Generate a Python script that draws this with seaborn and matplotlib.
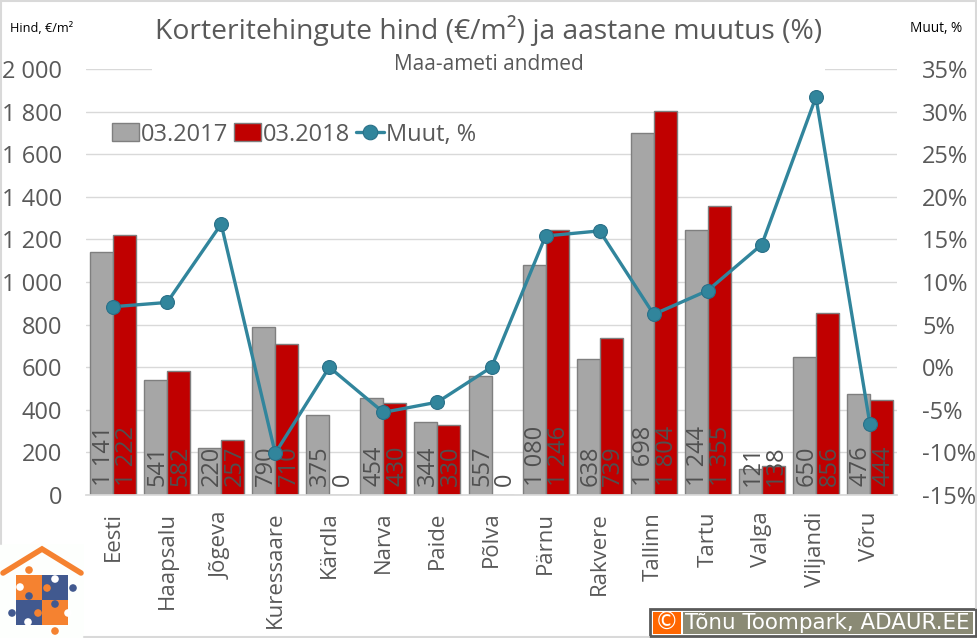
import numpy as np
import pandas as pd
import matplotlib
matplotlib.use('Agg')
import matplotlib.pyplot as plt
from matplotlib.lines import Line2D
from matplotlib.patches import Rectangle, Circle
from matplotlib.ticker import FuncFormatter
import seaborn as sns

# andmed
linnad = ['Eesti', 'Haapsalu', 'Jõgeva', 'Kuressaare', 'Kärdla', 'Narva', 'Paide', 'Põlva',
          'Pärnu', 'Rakvere', 'Tallinn', 'Tartu', 'Valga', 'Viljandi', 'Võru']
hind_2017 = [1141, 541, 220, 790, 375, 454, 344, 557, 1080, 638, 1698, 1244, 121, 650, 476]
hind_2018 = [1222, 582, 257, 710, 0, 430, 330, 0, 1246, 739, 1804, 1355, 138, 856, 444]
muut = [7.1, 7.6, 16.8, -10.1, 0, -5.3, -4.1, 0, 15.4, 16.0, 6.2, 9.0, 14.4, 31.7, -6.7]

HALL = '#a6a6a6'
PUNANE = '#c00000'
SININE = '#31859c'
TEKST = '#595959'
W, H = 977, 638

sns.set_theme(style='white')
plt.rcParams['font.family'] = ['Open Sans', 'DejaVu Sans']

df = pd.DataFrame({'linn': linnad * 2,
                   'hind': hind_2017 + hind_2018,
                   'aeg': ['03.2017'] * 15 + ['03.2018'] * 15})

fig = plt.figure(figsize=(W / 100, H / 100), dpi=100)
ax = fig.add_axes([86 / W, 1 - 495 / H, 811 / W, 426 / H])

sns.barplot(data=df, x='linn', y='hind', hue='aeg', palette=[HALL, PUNANE], width=0.85,
            edgecolor='#7f7f7f', linewidth=1, saturation=1, legend=False, ax=ax)
ax.set_ylim(0, 2000)
ax.set_xlim(-0.5, 14.5)
ax.set_yticks(range(0, 2001, 200))
ax.yaxis.set_major_formatter(FuncFormatter(lambda v, p: f'{int(v):,}'.replace(',', ' ')))
ax.set_xlabel('')
ax.set_ylabel('')
ax.grid(axis='y', color='#d9d9d9', linewidth=1)
ax.set_axisbelow(True)
sns.despine(ax=ax, left=True, right=True, top=True)
ax.spines['bottom'].set_color('#d9d9d9')
ax.tick_params(axis='y', length=0, pad=17, labelsize=17, labelcolor=TEKST)
ax.tick_params(axis='x', length=0, pad=12, labelsize=16, labelcolor=TEKST, labelrotation=90)

# väärtused tulpade sees, tulba alusel
for cont in ax.containers[:2]:
    for p, v in zip(cont.patches, cont.datavalues):
        ax.annotate(f'{int(v):,}'.replace(',', ' '), (p.get_x() + p.get_width() / 2, 0),
                    xytext=(1.6, 6.5), textcoords='offset points', rotation=90,
                    ha='center', va='bottom', fontsize=17, color='#505050')

# muutuse joon teisel teljel
ax2 = ax.twinx()
ax2.patch.set_visible(False)
sns.pointplot(x=linnad, y=muut, color=SININE, markersize=10, linewidth=2.4,
              markeredgecolor='#2a7088', markeredgewidth=0.8, errorbar=None, ax=ax2)
ax2.set_xlim(-0.5, 14.5)
ax2.set_ylim(-15, 35)
ax2.set_yticks(range(-15, 36, 5))
ax2.yaxis.set_major_formatter(FuncFormatter(lambda v, p: f'{int(v)}%'))
ax2.grid(False)
sns.despine(ax=ax2, left=True, right=True, top=True, bottom=True)
ax2.tick_params(axis='y', length=0, pad=18, labelsize=17, labelcolor=TEKST)

# legend
kasitsejad = [Rectangle((0, 0), 1, 1, fc=HALL, ec='#7f7f7f'),
              Rectangle((0, 0), 1, 1, fc=PUNANE, ec='#7f7f7f'),
              Line2D([], [], color=SININE, lw=2.4, marker='o', ms=10.5, mec='#2a7088', mew=0.8)]
ax2.legend(kasitsejad, ['03.2017', '03.2018', 'Muut, %'], frameon=False, ncol=3,
           loc='center left', bbox_to_anchor=(0.032, 0.846), fontsize=17, labelcolor=TEKST,
           handlelength=1.15, handleheight=0.8, handletextpad=0.08, columnspacing=0.25,
           borderpad=0, borderaxespad=0)

# kiht pikslikoordinaatides: pealkirjad, raam, logo ja allkiri
top = fig.add_axes([0, 0, 1, 1], zorder=10)
top.set_xlim(0, W)
top.set_ylim(H, 0)
top.axis('off')

top.add_patch(Rectangle((152, 40), 673, 40, fc='white', ec='none'))
top.text(489, 31, 'Korteritehingute hind (€/m²) ja aastane muutus (%)', ha='center', va='center',
         fontsize=20.3, color=TEKST)
top.text(489, 64, 'Maa-ameti andmed', ha='center', va='center', fontsize=15, color=TEKST)
top.text(10, 28, 'Hind, €/m²', ha='left', va='center', fontsize=9.2, color='black')
top.text(910, 29, 'Muut, %', ha='left', va='center', fontsize=9.8, color='black')

# raam
raam = '#d9d9d9'
top.plot([0.5, 0.5], [0, 544], color=raam, lw=1.5)
top.plot([0, W], [0.5, 0.5], color=raam, lw=1.5)
top.plot([W - 1, W - 1], [0, 608], color=raam, lw=1.5)
top.plot([84, 649], [637, 637], color=raam, lw=1.5)

# logo
OR = '#f58230'
BL = '#41598f'
top.add_patch(Rectangle((0, 544), 84, 94, fc='#fdfffd', ec='none'))
top.plot([3, 42, 81], [573, 549, 573], color=OR, lw=4, solid_joinstyle='miter')
for x, y, c in [(16, 575, OR), (42, 575, BL), (16, 600, BL), (42, 600, OR)]:
    top.add_patch(Rectangle((x, y), 26, 25, fc=c, ec='none'))
for x, y, c in [(29, 570, OR), (73, 588, BL), (47, 588, OR), (29, 596, BL), (12, 613, BL),
                (55, 604, BL), (55, 631, OR), (38, 613, OR),
                (20, 587, 'white'), (55, 579, 'white'), (28, 622, 'white'), (68, 613, 'white')]:
    top.add_patch(Circle((x, y), 3.8, fc=c, ec='none'))

# autori silt
top.add_patch(Rectangle((650, 609), 326, 27, fc='white', ec='#595959', lw=2))
top.add_patch(Rectangle((653, 612), 28, 22, fc='#ff6600', ec='none'))
top.add_patch(Rectangle((683, 612), 290, 22, fc='#8a8a75', ec='none'))
top.text(667, 622.5, '©', ha='center', va='center', fontsize=17, color='white', family='DejaVu Sans')
top.text(685, 623, 'Tõnu Toompark, ADAUR.EE', ha='left', va='center', fontsize=15.4, color='white',
         family='DejaVu Sans')

fig.savefig('out.png', dpi=100)
